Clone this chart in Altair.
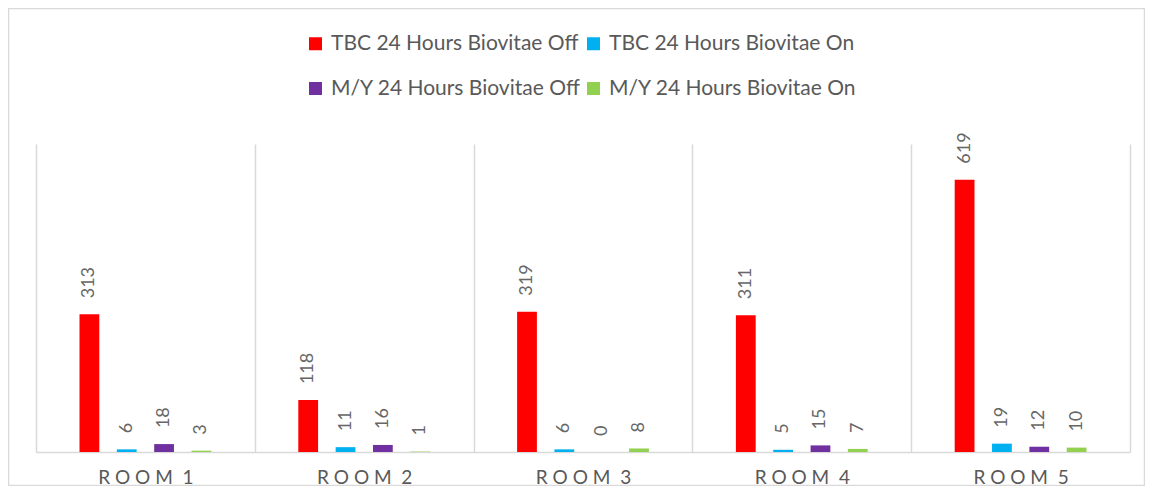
import altair as alt
import pandas as pd

rooms = ["ROOM 1", "ROOM 2", "ROOM 3", "ROOM 4", "ROOM 5"]
series = [
    "TBC 24 Hours Biovitae Off",
    "TBC 24 Hours Biovitae On",
    "M/Y 24 Hours Biovitae Off",
    "M/Y 24 Hours Biovitae On",
]
tbc_off = [313, 118, 319, 311, 619]
tbc_on = [6, 11, 6, 5, 19]
my_off = [18, 16, 0, 15, 12]
my_on = [3, 1, 8, 7, 10]
colors = ["#FF0000", "#00B0F0", "#7030A0", "#92D050"]

rows = []
for i, r in enumerate(rooms):
    for s, vals in zip(series, [tbc_off, tbc_on, my_off, my_on]):
        rows.append({"room": r, "series": s, "value": vals[i]})
df = pd.DataFrame(rows)

W, H = 1094, 308
FONT = "Lato"
GREY = "#595959"
LINE = "#d9d9d9"
NB = "\u00a0"

x = alt.X(
    "room:N",
    sort=rooms,
    scale=alt.Scale(paddingInner=0, paddingOuter=0),
    axis=alt.Axis(
        title=None,
        labelAngle=0,
        ticks=False,
        grid=True,
        tickBand="extent",
        gridColor=LINE,
        gridWidth=1.5,
        domainColor=LINE,
        domainWidth=1.5,
        labelFont=FONT,
        labelFontSize=19,
        labelColor=GREY,
        labelPadding=16,
        labelExpr="replace(join(split(datum.label, ''), '" + NB + "'), '" + NB + " " + NB + "', '" + NB + NB + "')",
    ),
)
xoff = alt.XOffset("series:N", sort=series,
                   scale=alt.Scale(range=[43.5, 175.3], paddingInner=0.47, paddingOuter=0))
y = alt.Y("value:Q", scale=alt.Scale(domain=[0, 700]), axis=None)
color = alt.Color(
    "series:N",
    sort=series,
    scale=alt.Scale(domain=series, range=colors),
    legend=alt.Legend(
        title=None,
        orient="none",
        legendX=269,
        legendY=-111,
        columns=2,
        direction="horizontal",
        symbolType="square",
        symbolSize=169,
        symbolStrokeWidth=0,
        labelFont=FONT,
        labelFontSize=21,
        labelColor=GREY,
        labelOffset=5,
        columnPadding=2,
        rowPadding=23,
        padding=0,
        labelLimit=400,
    ),
)

base = alt.Chart(df)
bars = base.mark_bar().encode(x=x, xOffset=xoff, y=y, color=color)
labels = base.mark_text(
    angle=270, align="left", baseline="middle", dx=16,
    font=FONT, fontSize=18, color="#666666"
).encode(x=x, xOffset=xoff, y=y, text=alt.Text("value:Q"))

border = alt.Chart(pd.DataFrame({"a": [0]})).mark_rect(
    fillOpacity=0, stroke=LINE, strokeWidth=1.5
).encode(
    x=alt.value(-27.5), x2=alt.value(1108.5),
    y=alt.value(-135.5), y2=alt.value(341.5)
)

chart = alt.layer(border, bars, labels).properties(
    width=W, height=H,
    padding={"left": 28, "top": 136, "right": 15, "bottom": 34},
    autosize=alt.AutoSizeParams(type="none"),
).configure_view(stroke="transparent")

chart.save("out.html", embed_options={"renderer": "svg", "actions": False})
